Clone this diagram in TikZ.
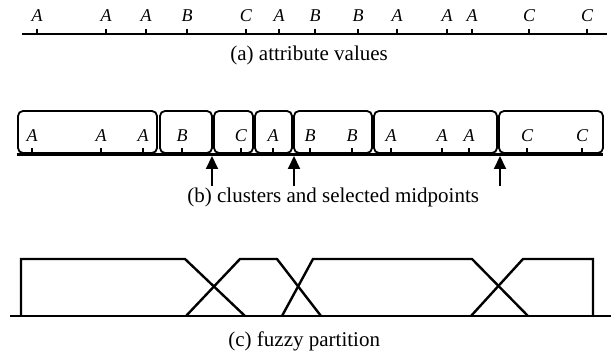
\documentclass[tikz,border=0pt]{standalone}
\usepackage{fontspec}
\setmainfont{Liberation Serif}
\usetikzlibrary{arrows.meta}
\begin{document}
\begin{tikzpicture}[x=0.5pt,y=-0.5pt,
  lbl/.style={font=\fontsize{9}{10}\selectfont\itshape, anchor=base, inner sep=0pt},
  captext/.style={font=\fontsize{10.5}{12}\selectfont, anchor=base west, inner sep=0pt},
  axisline/.style={line width=1pt},
  thickaxis/.style={line width=1.5pt},
  tickmark/.style={line width=0.6pt},
  cluster/.style={draw, line width=0.9pt, rounded corners=2.5pt},
  midarrow/.style={-{Triangle[length=6.5pt,width=6pt]}, line width=1pt},
  fuzzyset/.style={line width=1.2pt, line join=miter}]
\useasboundingbox (0,0) rectangle (611,358);

% (a) raw attribute values on the axis
\coordinate (aL) at (22,34);
\coordinate (aR) at (607,34);
\draw[axisline] (aL) -- (aR);
\foreach \x/\l [count=\i] in {37/A,106/A,146/A,187/B,246/C,279/A,315/B,358/B,397/A,447/A,472/A,529/C,587/C} {
  \node[lbl] (va\i) at (\x,22) {\l};
  \draw[tickmark] (\x,34) -- (\x,29);
}
\node[captext] (capa) at (230,61) {(a) attribute values};

% (b) clusters of neighbouring values
\coordinate (bL) at (17,155);
\coordinate (bR) at (603,155);
\foreach \xa/\xb in {18/157,160/212,214/253,255/292,294/372,374/497,499/603} {
  \draw[cluster] (\xa,111) rectangle (\xb,153);
}
\draw[thickaxis] (bL) -- (bR);
\foreach \x/\l [count=\i] in {32/A,101/A,143/A,182/B,241/C,273/A,310/B,352/B,391/A,442/A,469/A,527/C,582/C} {
  \node[lbl] (vb\i) at (\x,141) {\l};
  \draw[tickmark] (\x,153) -- (\x,148);
}
% selected midpoints
\foreach \x [count=\i] in {212,294,500} {
  \coordinate (mt\i) at (\x,186);
  \coordinate (mh\i) at (\x,156);
  \draw[midarrow] (mt\i) -- (mh\i);
}
\node[captext] (capb) at (187,203) {(b) clusters and selected midpoints};

% (c) fuzzy partition built from the midpoints
\coordinate (cL) at (10,316);
\coordinate (cR) at (611,316);
\draw[axisline] (cL) -- (cR);
\draw[fuzzyset] (21,316) -- (21,259) -- (185,259) -- (245,316);
\draw[fuzzyset] (186,316) -- (240,259) -- (277,259) -- (321,316);
\draw[fuzzyset] (282,316) -- (313,259) -- (472,259) -- (528,316);
\draw[fuzzyset] (471,316) -- (523,259) -- (593,259) -- (593,316);
\node[captext] (capc) at (228,346) {(c) fuzzy partition};
\end{tikzpicture}
\end{document}
